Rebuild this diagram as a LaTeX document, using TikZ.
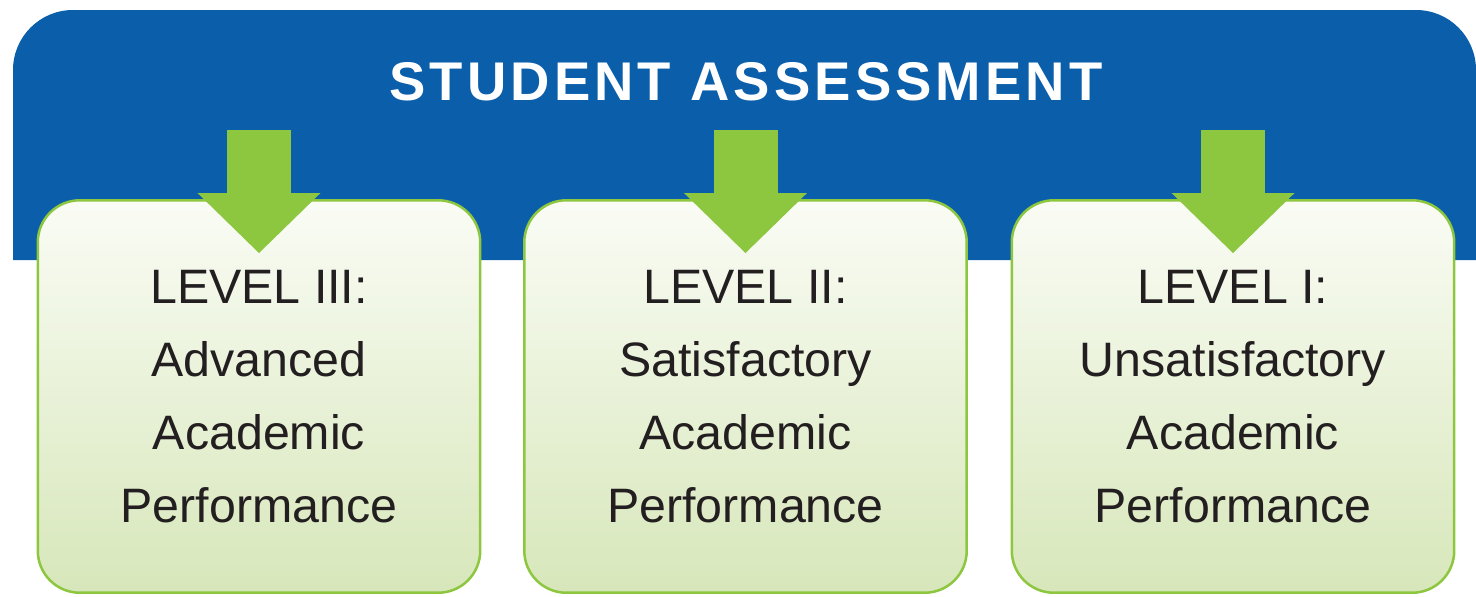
\documentclass[tikz,border=0pt]{standalone}
\usepackage{fontspec}
\setmainfont{Liberation Sans}
\usepackage{tikz}
\usetikzlibrary{arrows.meta}

\definecolor{bannerblue}{HTML}{0A5EAA}
\definecolor{arrowgreen}{HTML}{8DC63F}
\definecolor{boxtop}{HTML}{FAFCF5}
\definecolor{boxbot}{HTML}{D7E7BA}
\definecolor{inkdark}{HTML}{231F20}

\begin{document}
\begin{tikzpicture} [x = 0.02cm, y = -0.02cm]
        %style
        \tikzset{levelbox/.style = {shape=rectangle, draw=arrowgreen, line width=0.05cm, rounded corners=0.84cm, top color=boxtop, bottom color=boxbot, minimum width=8.85cm, minimum height=7.85cm, align=center, text=inkdark, font=\fontsize{27.5}{41.4}\selectfont}}
        \tikzset{headline/.style = {text=white, font=\bfseries\fontsize{31}{31}\selectfont\addfontfeatures{LetterSpace=7.5}}}
        \tikzset{downarrow/.style = {draw=arrowgreen, line width=1.28cm, -{Triangle[length=1.2cm, width=2.46cm, line width=0pt]}}}
        \useasboundingbox (0,0) rectangle (1476,596);
        % banner
        \fill[bannerblue] (13,260) [rounded corners=1.2cm] -- (13,10) -- (1476,10) [sharp corners] -- (1476,260) -- cycle;
        \node[headline]  (title) at  (746,82) {STUDENT ASSESSMENT};
        % levels
        \node[levelbox]  (box1)  at  (259,396.5) {LEVEL III:\\Advanced\\Academic\\Performance};
        \node[levelbox]  (box2)  at  (745.5,396.5) {LEVEL II:\\Satisfactory\\Academic\\Performance};
        \node[levelbox]  (box3)  at  (1233,396.5) {LEVEL I:\\Unsatisfactory\\Academic\\Performance};
        \coordinate      (a1)    at  (259,130);
        \coordinate      (a2)    at  (745.5,130);
        \coordinate      (a3)    at  (1233,130);
        \draw [downarrow] (a1) to ([yshift=-1.08cm]box1.north);
        \draw [downarrow] (a2) to ([yshift=-1.08cm]box2.north);
        \draw [downarrow] (a3) to ([yshift=-1.08cm]box3.north);
\end{tikzpicture}
\end{document}
